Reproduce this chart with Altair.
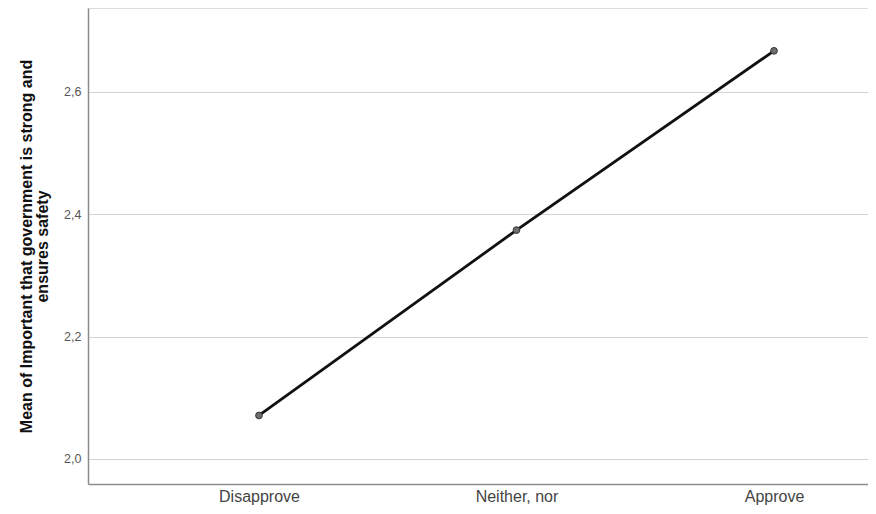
import altair as alt
import pandas as pd

categories = ["Disapprove", "Neither, nor", "Approve"]
means = [2.071, 2.374, 2.667]

df = pd.DataFrame({"idx": [0, 1, 2], "cat": categories, "mean": means})

label_expr = "datum.value == 0 ? 'Disapprove' : datum.value == 1 ? 'Neither, nor' : datum.value == 2 ? 'Approve' : ''"

x = alt.X("idx:Q", scale=alt.Scale(domain=[-0.664, 2.365], nice=False, zero=False),
          axis=alt.Axis(values=[0, 1, 2], labelExpr=label_expr, title=None, grid=False,
                        ticks=False, domainColor="#8c8c8c", domainWidth=1.5,
                        labelColor="#444444", labelFontSize=16, labelPadding=4,
                        labelFont="Liberation Sans"))
y = alt.Y("mean:Q", scale=alt.Scale(domain=[1.959, 2.737], nice=False, zero=False),
          axis=alt.Axis(values=[2.0, 2.2, 2.4, 2.6],
                        labelExpr="replace(format(datum.value, '.1f'), '.', ',')",
                        title=["Mean of Important that government is strong and", "ensures safety"],
                        titleFont="Liberation Sans", titleFontSize=16, titleFontWeight="bold",
                        titleLineHeight=16,
                        titleColor="#111111", titlePadding=13,
                        grid=True, gridColor="#d4d4d4", gridWidth=1.2,
                        ticks=False, domainColor="#8c8c8c", domainWidth=1.5,
                        labelColor="#555555", labelFontSize=12.5, labelPadding=7,
                        labelFont="Liberation Sans"))

line = alt.Chart(df).mark_line(color="#111111", strokeWidth=2.8).encode(x=x, y=y)
pts = alt.Chart(df).mark_point(filled=True, color="#6e6e6e", stroke="#333333",
                               strokeWidth=1, size=45, opacity=1).encode(x=x, y=y)

chart = (line + pts).properties(
    width=780, height=476,
    autosize=alt.AutoSizeParams(type="none"),
    padding={"left": 80, "top": 0, "right": 0, "bottom": 22},
).configure_view(stroke=None).configure(background="white")

chart.save("out.html", embed_options={"renderer": "svg", "actions": False})
